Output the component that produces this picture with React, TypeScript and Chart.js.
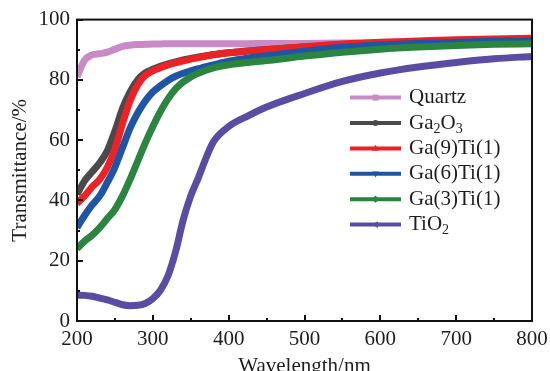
import { useEffect, useRef } from "react";
import { Chart, registerables } from "chart.js";

Chart.register(...registerables);

const FONT = "'Liberation Serif', 'Times New Roman', Times, serif";
const TEXT = "#1e1e1e";

const wavelengths = [200, 210, 220, 230, 240, 250, 260, 270, 280, 290, 300, 310, 320, 330, 340, 350, 360, 370, 380, 400, 425, 450, 500, 550, 600, 650, 700, 750, 800];

const quartz = [81, 86.5, 88.3, 88.7, 89.2, 90.2, 91.1, 91.5, 91.7, 91.8, 91.9, 91.9, 92, 92, 92, 92, 92, 92, 92, 92, 92, 92.1, 92.1, 92.2, 92.2, 92.3, 92.3, 92.4, 92.5];
const ga2o3 = [42, 46.5, 49.5, 52.5, 56.5, 63, 70.5, 76, 80, 82.3, 83.5, 84.5, 85.3, 86, 86.6, 87.1, 87.6, 88, 88.4, 89, 89.6, 90.1, 90.9, 91.5, 92, 92.4, 92.8, 93.1, 93.4];
const ga9ti1 = [39, 41.5, 44.5, 47, 51, 57, 65.5, 73, 78.3, 81.5, 83, 84, 85, 85.7, 86.3, 86.9, 87.4, 87.9, 88.3, 89, 89.6, 90, 91, 91.9, 92.5, 92.9, 93.3, 93.6, 93.8];
const ga6ti1 = [31, 35, 38.5, 41.5, 46, 51, 57.5, 64, 69, 73, 76, 78, 79.8, 81.2, 82.2, 83, 83.7, 84.4, 85, 86.2, 87.2, 88, 89.5, 90.8, 91.6, 92.1, 92.5, 92.8, 93];
const ga3ti1 = [24, 26.5, 28.5, 31, 34, 37, 41.5, 47, 53, 59, 64.5, 69.5, 73.7, 77, 79.3, 81, 82.2, 83.2, 84, 85, 85.8, 86.4, 87.9, 89.2, 90.2, 90.9, 91.4, 91.8, 92];
const tio2 = [8.6, 8.5, 8.2, 7.6, 7.0, 6.2, 5.4, 5.1, 5.2, 5.8, 7.4, 10.2, 15, 23, 33.5, 41.5, 47.5, 54, 59.5, 64.5, 68, 71, 75.5, 79.5, 82.3, 84.3, 85.8, 87, 87.8];

const xMajorTicks = [200, 300, 400, 500, 600, 700, 800];
const xMinorTicks = [250, 350, 450, 550, 650, 750];
const yMajorTicks = [0, 20, 40, 60, 80, 100];
const yMinorTicks = [10, 30, 50, 70, 90];

const xTitle = "Wavelength/nm";
const yTitle = "Transmittance/%";

type Seg = { t: string; sub?: boolean };
const seriesNames: Seg[][] = [
  [{ t: "Quartz" }],
  [{ t: "Ga" }, { t: "2", sub: true }, { t: "O" }, { t: "3", sub: true }],
  [{ t: "Ga(9)Ti(1)" }],
  [{ t: "Ga(6)Ti(1)" }],
  [{ t: "Ga(3)Ti(1)" }],
  [{ t: "Ti" }, { t: "O" }, { t: "2", sub: true }],
];
const seriesValues = [quartz, ga2o3, ga9ti1, ga6ti1, ga3ti1, tio2];
const seriesColors = ["#c98bc6", "#4a4a4a", "#ec2227", "#1f55a5", "#2b8440", "#5b4ca3"];
const seriesMarkers = ["square", "circle", "triUp", "triDown", "diamond", "triLeft"];

function drawMarker(ctx: CanvasRenderingContext2D, kind: string, x: number, y: number, r: number) {
  ctx.beginPath();
  if (kind === "square") {
    ctx.rect(x - r, y - r, 2 * r, 2 * r);
  } else if (kind === "circle") {
    ctx.arc(x, y, r, 0, Math.PI * 2);
  } else if (kind === "triUp") {
    ctx.moveTo(x, y - r * 1.2);
    ctx.lineTo(x + r * 1.1, y + r * 0.8);
    ctx.lineTo(x - r * 1.1, y + r * 0.8);
  } else if (kind === "triDown") {
    ctx.moveTo(x, y + r * 1.2);
    ctx.lineTo(x + r * 1.1, y - r * 0.8);
    ctx.lineTo(x - r * 1.1, y - r * 0.8);
  } else if (kind === "diamond") {
    ctx.moveTo(x, y - r * 1.2);
    ctx.lineTo(x + r * 1.2, y);
    ctx.lineTo(x, y + r * 1.2);
    ctx.lineTo(x - r * 1.2, y);
  } else if (kind === "triLeft") {
    ctx.moveTo(x - r * 1.2, y);
    ctx.lineTo(x + r * 0.8, y - r * 1.1);
    ctx.lineTo(x + r * 0.8, y + r * 1.1);
  }
  ctx.closePath();
  ctx.fill();
}

const framePlugin = {
  id: "frameTicksLegend",
  afterDatasetsDraw(chart: any) {
    const ctx: CanvasRenderingContext2D = chart.ctx;
    const { left, right, top, bottom } = chart.chartArea;
    const xs = chart.scales.x;
    const ys = chart.scales.y;
    ctx.save();
    // frame
    ctx.strokeStyle = "#111";
    ctx.lineWidth = 2;
    ctx.strokeRect(left, top, right - left, bottom - top);
    // ticks (inward)
    ctx.lineWidth = 2;
    ctx.beginPath();
    xMajorTicks.forEach((v) => {
      const px = Math.round(xs.getPixelForValue(v));
      ctx.moveTo(px, bottom);
      ctx.lineTo(px, bottom - 6);
    });
    xMinorTicks.forEach((v) => {
      const px = Math.round(xs.getPixelForValue(v));
      ctx.moveTo(px, bottom);
      ctx.lineTo(px, bottom - 3);
    });
    yMajorTicks.forEach((v) => {
      const py = Math.round(ys.getPixelForValue(v));
      ctx.moveTo(left, py);
      ctx.lineTo(left + 6, py);
    });
    yMinorTicks.forEach((v) => {
      const py = Math.round(ys.getPixelForValue(v));
      ctx.moveTo(left, py);
      ctx.lineTo(left + 3, py);
    });
    ctx.stroke();

    // legend
    const lx0 = right - 182;
    const lx1 = lx0 + 51;
    const tx = lx0 + 59;
    const ly0 = top + 78;
    const dy = 25.4;
    ctx.textBaseline = "middle";
    ctx.textAlign = "left";
    seriesNames.forEach((segs, i) => {
      const y = ly0 + i * dy;
      ctx.strokeStyle = seriesColors[i];
      ctx.fillStyle = seriesColors[i];
      ctx.lineWidth = 4;
      ctx.beginPath();
      ctx.moveTo(lx0, y);
      ctx.lineTo(lx1, y);
      ctx.stroke();
      drawMarker(ctx, seriesMarkers[i], (lx0 + lx1) / 2, y, 3);
      ctx.fillStyle = TEXT;
      let x = tx;
      segs.forEach((s) => {
        if (s.sub) {
          ctx.font = `14px ${FONT}`;
          ctx.fillText(s.t, x, y + 6);
        } else {
          ctx.font = `21px ${FONT}`;
          ctx.fillText(s.t, x, y);
        }
        x += ctx.measureText(s.t).width;
      });
    });

    // axis titles
    ctx.fillStyle = TEXT;
    ctx.font = `21px ${FONT}`;
    ctx.textAlign = "center";
    ctx.textBaseline = "alphabetic";
    ctx.fillText(xTitle, (left + right) / 2, 372);
    ctx.save();
    ctx.translate(20, (top + bottom) / 2);
    ctx.rotate(-Math.PI / 2);
    ctx.textBaseline = "middle";
    ctx.fillText(yTitle, 0, 0);
    ctx.restore();
    ctx.restore();
  },
};

export default function App() {
  const ref = useRef<HTMLCanvasElement | null>(null);
  useEffect(() => {
    document.body.style.margin = "0";
    if (!ref.current) return;
    const datasets = seriesValues.map((vals, i) => ({
      label: seriesNames[i].map((s) => s.t).join(""),
      data: wavelengths.map((w, j) => ({ x: w, y: vals[j] })),
      borderColor: seriesColors[i],
      backgroundColor: seriesColors[i],
      borderWidth: 7,
      pointRadius: 0,
      fill: false,
      cubicInterpolationMode: "monotone" as const,
      order: seriesValues.length - i,
    }));
    const chart = new Chart(ref.current, {
      type: "line",
      data: { datasets },
      options: {
        animation: false,
        responsive: false,
        maintainAspectRatio: false,
        layout: { padding: { top: 19, right: 18, left: 0, bottom: 0 } },
        plugins: { legend: { display: false }, tooltip: { enabled: false } },
        scales: {
          x: {
            type: "linear",
            min: 200,
            max: 800,
            ticks: { stepSize: 100, color: TEXT, font: { family: FONT, size: 21 }, padding: 6, maxRotation: 0 },
            grid: { display: false, drawTicks: false },
            border: { display: false },
            afterFit: (s: any) => { s.height = 50; s.paddingRight = 0; },
          },
          y: {
            min: 0,
            max: 100,
            ticks: { stepSize: 20, color: TEXT, font: { family: FONT, size: 21 }, padding: 7 },
            grid: { display: false, drawTicks: false },
            border: { display: false },
            afterFit: (s: any) => { s.width = 77; },
          },
        },
      },
      plugins: [framePlugin],
    });
    return () => chart.destroy();
  }, []);
  return (
    <div style={{ position: "absolute", left: 0, top: 0, width: 550, height: 371, background: "#fff" }}>
      <canvas ref={ref} width={550} height={371} style={{ display: "block" }} />
    </div>
  );
}
